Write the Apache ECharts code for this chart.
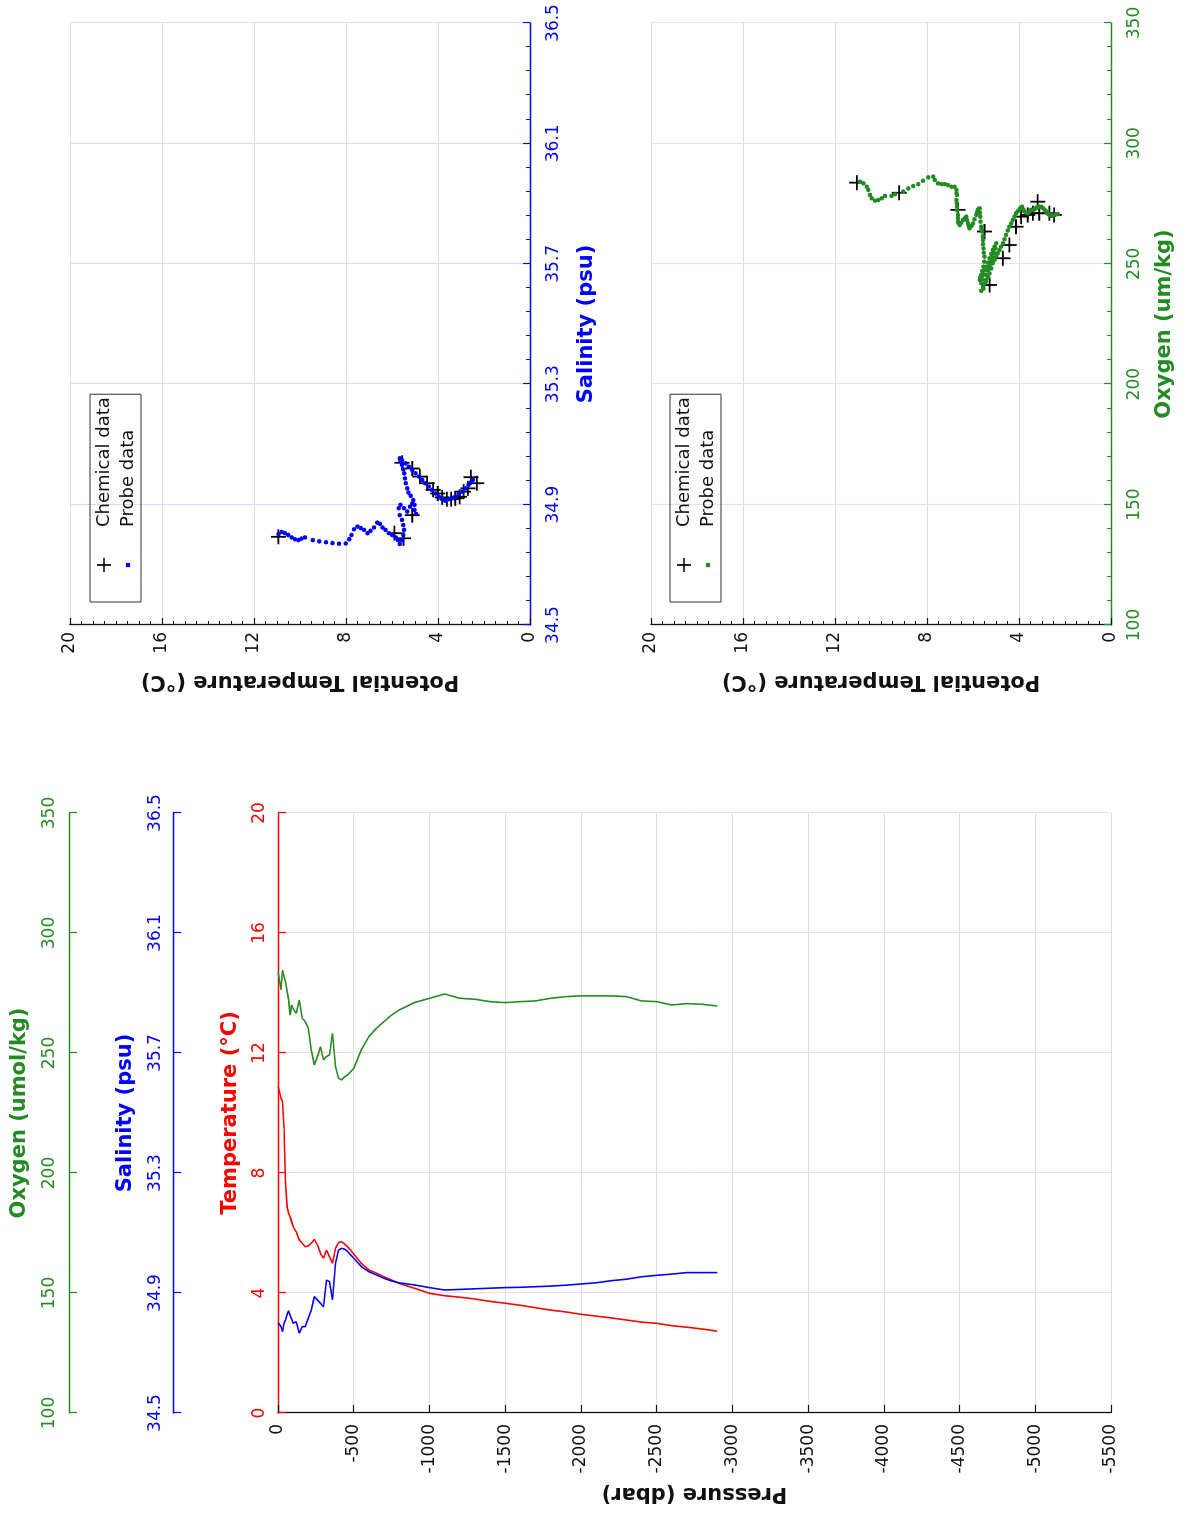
<!DOCTYPE html>
<html>
<head>
<meta charset="utf-8">
<script src="https://cdn.jsdelivr.net/npm/echarts@6/dist/echarts.min.js"></script>
<style>
html,body{margin:0;padding:0;background:#fff;overflow:hidden;width:1186px;height:1517px;}
#chart{position:absolute;left:0;top:0;width:1517px;height:1186px;transform-origin:0 0;transform:translateY(1517px) rotate(-90deg);background:#fff;}
</style>
</head>
<body>
<div id="chart"></div>
<script>
// ---------- Profile data (pressure, dbar) ----------
const pressure = [0,-10,-20,-30,-40,-50,-60,-70,-80,-90,-100,
  -120,-140,-160,-180,-200,-220,-240,-260,-280,-300,-320,-340,-360,-380,-400,-420,-440,-460,-480,-500,
  -550,-600,-650,-700,-750,-800,
  -900,-1000,-1100,-1200,-1300,-1400,-1500,-1600,-1700,-1800,-1900,-2000,-2100,-2200,-2300,-2400,-2500,-2600,-2700,-2800,-2900];
const temperature = [10.88,10.71,10.49,10.38,9.5,7.66,6.88,6.66,6.54,6.38,6.21,
  6.04,5.77,5.66,5.54,5.57,5.66,5.79,5.60,5.32,5.16,5.43,5.21,4.99,5.49,5.68,5.71,5.63,5.54,5.43,5.30,
  4.99,4.77,4.66,4.54,4.43,4.32,
  4.16,3.99,3.91,3.86,3.80,3.72,3.66,3.59,3.51,3.43,3.37,3.29,3.23,3.17,3.10,3.03,2.99,2.91,2.86,2.80,2.73];
const salinity = [34.801,34.799,34.788,34.771,34.799,34.810,34.827,34.841,34.827,34.821,34.799,
  34.804,34.766,34.788,34.788,34.816,34.843,34.888,34.877,34.866,34.854,34.943,34.938,34.877,34.999,35.043,35.049,35.046,35.038,35.027,35.016,
  34.988,34.971,34.960,34.949,34.940,34.934,
  34.927,34.918,34.910,34.912,34.914,34.916,34.918,34.919,34.921,34.923,34.926,34.930,34.934,34.941,34.946,34.954,34.959,34.963,34.968,34.968,34.968];
const oxygen = [283.9,280.4,276.3,284.6,281.8,279.7,279.0,272.1,265.8,270.0,268.6,
  266.5,272.1,264.5,263.1,260.3,251.3,245.0,248.5,252.6,247.1,248.5,249.2,258.2,244.3,239.5,238.8,240.1,240.8,242.2,243.6,
  251.3,256.8,260.3,263.1,265.8,267.9,
  271.0,272.8,274.6,272.8,272.4,271.4,271.0,271.4,271.7,272.8,273.5,273.8,273.8,273.8,273.5,271.7,271.4,270.0,270.6,270.3,269.6];

// ---------- T-S diagram ----------
const tsProbeSalinity = [34.802,34.809,34.805,34.799,34.791,34.785,34.782,34.787,34.791,34.782,
  34.778,34.775,34.772,34.770,34.771,34.785,34.799,34.818,34.827,34.822,
  34.816,34.805,34.813,34.824,34.840,34.836,34.824,34.816,34.805,34.799,
  34.791,34.782,34.769,34.782,34.799,34.816,34.832,34.849,34.865,34.888,
  34.899,34.888,34.877,34.893,34.904,34.882,34.869,34.899,34.915,34.929,
  34.940,34.954,34.971,34.987,35.004,35.017,35.032,35.046,35.054,35.048,
  35.037,35.026,35.015,35.004,34.993,34.982,34.971,34.960,34.949,34.937,
  34.926,34.918,34.913,34.918,34.921,34.926,34.934,34.943,34.954,34.965,
  34.974,34.982];
const tsProbeTheta = [10.94,10.79,10.65,10.51,10.36,10.22,10.07,9.93,9.78,9.45,
  9.16,8.87,8.59,8.30,8.01,7.86,7.76,7.65,7.50,7.36,
  7.22,7.07,6.93,6.78,6.64,6.52,6.41,6.28,6.13,5.99,
  5.84,5.74,5.66,5.57,5.51,5.48,5.51,5.57,5.66,5.71,
  5.63,5.48,5.34,5.22,5.12,5.02,4.96,5.02,5.08,5.19,
  5.28,5.34,5.40,5.44,5.47,5.51,5.57,5.63,5.66,5.56,
  5.41,5.27,5.12,4.98,4.83,4.69,4.55,4.40,4.26,4.11,
  3.97,3.82,3.68,3.54,3.39,3.25,3.10,2.96,2.81,2.67,
  2.57,2.48];
const tsChemSalinity = [34.793,34.805,34.788,34.865,35.039,35.020,34.993,34.971,34.949,34.937,34.924,34.918,34.918,34.921,34.926,34.943,34.954,34.991,34.971];
const tsChemTheta = [10.94,5.90,5.50,5.12,5.56,5.12,4.79,4.47,4.21,4.01,3.82,3.61,3.43,3.25,3.06,2.89,2.70,2.57,2.31];

// ---------- T-O diagram ----------
const toProbeOxygen = [284.1,283.4,282.0,280.7,278.6,277.2,276.2,276.5,277.2,278.2,
  278.2,278.9,280.0,281.3,282.3,283.1,284.5,285.9,286.2,284.8,
  283.4,283.1,283.1,282.7,282.0,282.0,280.7,278.6,276.5,273.7,
  270.3,267.5,266.1,268.2,269.6,266.8,264.7,266.8,270.3,272.4,
  273.0,269.6,265.4,263.4,259.9,256.4,253.0,248.8,245.4,243.3,
  241.9,245.4,248.8,252.3,255.7,258.5,254.4,250.9,247.4,243.3,
  240.5,238.8,242.6,246.0,250.2,253.0,255.7,258.5,262.0,265.4,
  268.2,271.0,272.6,273.7,271.7,271.0,272.4,272.6,273.7,273.7,
  272.6,271.0,269.9,270.3,270.7,
  271.2,267.5,264.3,261.5,258.2,254.6,250.9,247.0,244.4,243.6,
  247.2,250.5,254.1,257.1,256.4,252.7,249.1,245.4,241.9,239.7,
  244.4,248.1,251.6,254.4,257.1,260.2,263.8,266.8,269.6,271.8,
  273.2,272.6,271.2,271.7,272.5,273.2,273.7,273.2,271.8,270.4,
  270.0,270.5,
  279.3,275.1,272.1,268.9,266.8,267.1,268.9,268.2,265.7,265.7,
  268.5,271.2,272.9];
const toProbeTheta = [10.91,10.76,10.62,10.55,10.48,10.40,10.26,10.12,9.97,9.83,
  9.54,9.39,9.03,8.82,8.60,8.38,8.17,7.95,7.73,7.66,
  7.52,7.37,7.23,7.09,6.94,6.80,6.72,6.70,6.72,6.70,
  6.65,6.65,6.58,6.44,6.29,6.22,6.15,6.00,5.86,5.79,
  5.71,5.69,5.64,5.60,5.57,5.54,5.50,5.54,5.64,5.71,
  5.64,5.54,5.43,5.28,5.14,4.99,5.06,5.21,5.35,5.43,
  5.57,5.64,5.43,5.28,5.14,4.99,4.85,4.70,4.56,4.42,
  4.27,4.13,3.98,3.87,3.77,3.62,3.48,3.33,3.19,3.04,
  2.90,2.76,2.61,2.47,2.32,
  5.70,5.67,5.63,5.58,5.56,5.53,5.51,5.60,5.69,5.60,
  5.48,5.35,5.21,5.06,5.02,5.14,5.28,5.40,5.50,5.54,
  5.35,5.21,5.06,4.92,4.78,4.63,4.49,4.34,4.20,4.05,
  3.93,3.81,3.69,3.55,3.41,3.26,3.12,2.97,2.83,2.68,
  2.54,2.40,
  6.72,6.71,6.68,6.65,6.62,6.51,6.36,6.26,6.19,6.07,
  5.93,5.83,5.74];
const toChemOxygen = [283.7,279.5,272.4,263.4,241.2,252.3,257.8,265.4,269.6,270.3,271.0,275.8,271.0,271.0,270.3];
const toChemTheta = [11.05,9.21,6.65,5.50,5.28,4.70,4.42,4.13,3.91,3.62,3.40,3.19,3.12,2.68,2.47];

// ---------- styling ----------
const FONT = 'DejaVu Sans';
const RED = '#ff0000', BLUE = '#0000ff', GREEN = '#228b22', INK = '#111111';
const TICK_FS = 17, NAME_FS = 21;
const PLUS = 'path://M0,4.4H10V5.6H0Z M4.4,0H5.6V10H4.4Z';
const DOT = 'path://M0,0M10,10M3.5,3.5H6.5V6.5H3.5Z';

function axis(o) {
  const c = o.color;
  return {
    type: 'value', gridIndex: o.grid, position: o.position, offset: o.offset || 0,
    min: o.min, max: o.max, interval: o.interval,
    name: o.name, nameLocation: 'middle', nameGap: o.nameGap, nameRotate: o.nameRotate || 0,
    nameTextStyle: {color: c, fontFamily: FONT, fontWeight: 'bold', fontSize: NAME_FS},
    axisLine: {show: true, onZero: false, lineStyle: {color: c, width: 1.3}},
    axisTick: {show: true, inside: true, length: o.tickLen || 8, lineStyle: {color: c, width: 1.2}},
    minorTick: {show: !!o.minor, splitNumber: o.minor || 5, length: 4, lineStyle: {color: c, width: 1}},
    axisLabel: {color: o.labelColor || c, fontFamily: FONT, fontSize: TICK_FS, margin: o.margin,
      formatter: o.fmt || (v => String(v))},
    splitLine: {show: !!o.split, lineStyle: {color: o.split, width: 1}}
  };
}

const legendCommon = {
  orient: 'vertical', padding: [5, 3, 4, 30], itemWidth: 14, itemHeight: 14, itemGap: 6,
  borderColor: '#333', borderWidth: 1, selectedMode: false,
  textStyle: {fontFamily: FONT, fontSize: 18, color: INK, lineHeight: 18, padding: [0, 0, 0, 26]}
};

const chart = echarts.init(document.getElementById('chart'), null, {renderer: 'canvas'});
chart.setOption({
  animation: false,
  backgroundColor: '#ffffff',
  grid: [
    {left: 104, top: 278, width: 600, height: 833},
    {left: 892, top: 70, width: 602, height: 460},
    {left: 892, top: 651, width: 602, height: 460}
  ],
  xAxis: [
    axis({grid: 0, position: 'top', min: 0, max: 20, interval: 4, color: RED, name: 'Temperature (°C)', nameGap: 37, margin: 10, split: '#ffd9d9'}),
    axis({grid: 0, position: 'top', offset: 105, min: 34.5, max: 36.5, interval: 0.4, color: BLUE, name: 'Salinity (psu)', nameGap: 37, margin: 9, fmt: v => v.toFixed(1)}),
    axis({grid: 0, position: 'top', offset: 209, min: 100, max: 350, interval: 50, color: GREEN, name: 'Oxygen (umol/kg)', nameGap: 39, margin: 11}),
    axis({grid: 1, position: 'bottom', min: 34.5, max: 36.5, interval: 0.4, color: BLUE, name: 'Salinity (psu)', nameGap: 46, margin: 15, minor: 5, tickLen: 7, split: '#d8d8ff', fmt: v => v.toFixed(1)}),
    axis({grid: 2, position: 'bottom', min: 100, max: 350, interval: 50, color: GREEN, name: 'Oxygen (um/kg)', nameGap: 43, margin: 15, minor: 5, tickLen: 7, split: '#d6ecd6'})
  ],
  yAxis: [
    axis({grid: 0, position: 'left', min: -5500, max: 0, interval: 500, color: INK, name: 'Pressure (dbar)', nameRotate: 90, nameGap: 70, margin: 11, split: '#dddddd'}),
    axis({grid: 1, position: 'left', min: 0, max: 20, interval: 4, color: INK, name: 'Potential Temperature (°C)', nameRotate: 90, nameGap: 46, margin: 7, minor: 8, tickLen: 7, split: '#dddddd'}),
    axis({grid: 2, position: 'left', min: 0, max: 20, interval: 4, color: INK, name: 'Potential Temperature (°C)', nameRotate: 90, nameGap: 46, margin: 7, minor: 8, tickLen: 7, split: '#dddddd'})
  ],
  legend: [
    Object.assign({}, legendCommon, {left: 915, top: 90,
      data: [{name: 'Chemical data', icon: PLUS, itemStyle: {color: '#000', borderWidth: 0, opacity: 1}},
             {name: 'Probe data', icon: DOT, itemStyle: {color: BLUE, borderWidth: 0, opacity: 1}}]}),
    Object.assign({}, legendCommon, {left: 915, top: 670,
      data: [{name: 'Chemical data', icon: PLUS, itemStyle: {color: '#000', borderWidth: 0, opacity: 1}},
             {name: 'Probe data', icon: DOT, itemStyle: {color: GREEN, borderWidth: 0, opacity: 1}}]})
  ],
  series: [
    {type: 'line', name: 'Temperature', xAxisIndex: 0, yAxisIndex: 0, showSymbol: false, silent: true,
     lineStyle: {color: RED, width: 1.6}, itemStyle: {color: RED},
     data: pressure.map((p, i) => [temperature[i], p])},
    {type: 'line', name: 'Salinity', xAxisIndex: 1, yAxisIndex: 0, showSymbol: false, silent: true,
     lineStyle: {color: BLUE, width: 1.6}, itemStyle: {color: BLUE},
     data: pressure.map((p, i) => [salinity[i], p])},
    {type: 'line', name: 'Oxygen', xAxisIndex: 2, yAxisIndex: 0, showSymbol: false, silent: true,
     lineStyle: {color: GREEN, width: 1.6}, itemStyle: {color: GREEN},
     data: pressure.map((p, i) => [oxygen[i], p])},
    {type: 'scatter', name: 'Chemical data', xAxisIndex: 3, yAxisIndex: 1, symbol: PLUS, symbolSize: 15,
     itemStyle: {color: '#000', borderWidth: 0, opacity: 1}, silent: true,
     data: tsChemSalinity.map((s, i) => [s, tsChemTheta[i]])},
    {type: 'scatter', name: 'Probe data', xAxisIndex: 3, yAxisIndex: 1, symbol: 'circle', symbolSize: 4.5,
     itemStyle: {color: BLUE, borderWidth: 0, opacity: 1}, silent: true,
     data: tsProbeSalinity.map((s, i) => [s, tsProbeTheta[i]])},
    {type: 'scatter', name: 'Chemical data', xAxisIndex: 4, yAxisIndex: 2, symbol: PLUS, symbolSize: 15,
     itemStyle: {color: '#000', borderWidth: 0, opacity: 1}, silent: true,
     data: toChemOxygen.map((o, i) => [o, toChemTheta[i]])},
    {type: 'scatter', name: 'Probe data', xAxisIndex: 4, yAxisIndex: 2, symbol: 'circle', symbolSize: 4.5,
     itemStyle: {color: GREEN, borderWidth: 0, opacity: 1}, silent: true,
     data: toProbeOxygen.map((o, i) => [o, toProbeTheta[i]])}
  ]
});
</script>
</body>
</html>
